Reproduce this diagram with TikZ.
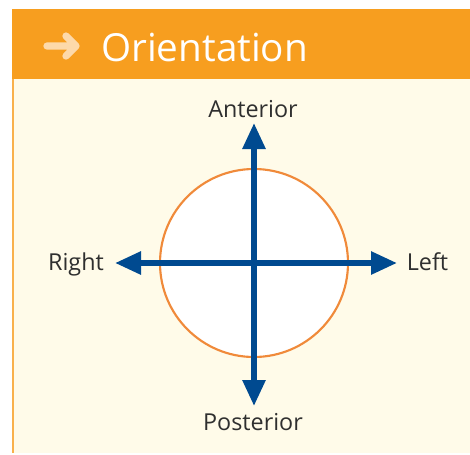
\documentclass[tikz,border=0pt]{standalone}
\usepackage{fontspec}
\setmainfont{Open Sans}
\usetikzlibrary{arrows.meta}
\definecolor{headorange}{HTML}{F79E1F}
\definecolor{cream}{HTML}{FFFBE9}
\definecolor{ringorange}{HTML}{F08A3A}
\definecolor{axisblue}{HTML}{004A90}
\definecolor{peach}{HTML}{FDD9AA}
\definecolor{textgray}{HTML}{2F2F2F}
\tikzset{
    axislabel/.style={font=\fontsize{17.5}{20}\selectfont, text=textgray, anchor=base, inner sep=0pt},
    axisarrow/.style={{Triangle[length=19.5pt,width=16.5pt]}-{Triangle[length=19.5pt,width=16.5pt]}, line width=4.3pt, axisblue}
}
\begin{document}
\begin{tikzpicture}[x=0.75pt, y=-0.75pt]
    \useasboundingbox (0,0) rectangle (470,454);
    % Kopfzeile
    \fill[headorange] (12,9) rectangle (470,79);
    \draw[peach, line width=5.5pt, line cap=round, line join=round]
        (47,46) -- (76,46) (66,36) -- (76,46) -- (66,56);
    \node[font=\fontsize{29}{34}\selectfont, text=white, anchor=base west, inner sep=0pt] (title) at (101,61) {Orientation};

    % Inhalt
    \fill[cream] (12,79) rectangle (470,453);
    \draw[headorange!80!white, line width=1.2pt] (13,79) -- (13,453);

    % Kreis
    \node[circle, draw=ringorange, line width=1.6pt, fill=white, minimum size=188*0.75pt, inner sep=0pt] (ring) at (254,263) {};

    % Achsen
    \coordinate (top) at (254,123);
    \coordinate (bottom) at (254,406);
    \coordinate (lefttip) at (115,263);
    \coordinate (righttip) at (397,263);
    \draw[axisarrow] (bottom) -- (top);
    \draw[axisarrow] (lefttip) -- (righttip);

    % Beschriftungen
    \node[axislabel] (anterior) at (253,117) {Anterior};
    \node[axislabel] (posterior) at (253,430) {Posterior};
    \node[axislabel] (right) at (76,270) {Right};
    \node[axislabel] (left) at (427.5,270) {Left};
\end{tikzpicture}
\end{document}
